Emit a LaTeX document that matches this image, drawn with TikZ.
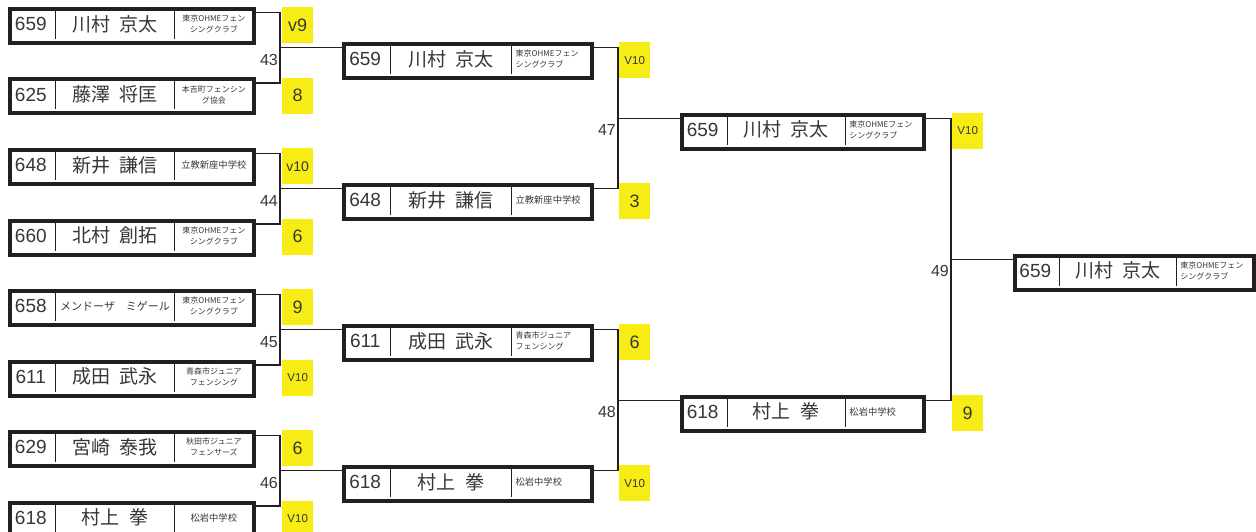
\documentclass[tikz,border=0pt]{standalone}
\usepackage{fontspec}
\setmainfont{Liberation Sans}
\newfontfamily\jp{Noto Sans CJK JP}
\definecolor{scoreyellow}{RGB}{247,236,20}
\definecolor{framegray}{RGB}{35,31,32}
\definecolor{inkgray}{RGB}{55,55,55}

% fencer box: id, x, y (outer top left), width, number, name, club
\newcommand{\fencer}[7]{%
	\node[entry, minimum width={(#4-4)*1pt}] (#1) at ({#2+2},{#3+2}) {};
	\draw[divider] ({#2+0.2*#4},{#3+4}) -- ++(0,30);
	\draw[divider] ({#2+0.68*#4},{#3+4}) -- ++(0,30);
	\node[num] (#1_num) at ({#2+0.1*#4},{#3+19}) {#5};
	\node[fname] (#1_name) at ({#2+0.44*#4},{#3+19}) {#6};
	\node[club] (#1_club) at ({#2+0.68*#4+1},{#3+19}) {#7};
	\coordinate (#1_i) at ([yshift=-5.5pt]#1.north west);
	\coordinate (#1_o) at ([yshift=-5.5pt]#1.north east);
}

\begin{document}
\begin{tikzpicture}[x=1pt, y=-1pt,
	entry/.style={draw=framegray, line width=4pt, fill=white, minimum height=34pt, inner sep=0pt, anchor=north west},
	divider/.style={line width=0.9pt, framegray},
	num/.style={text=inkgray, font=\fontsize{19}{19}\selectfont},
	fname/.style={text=inkgray, font=\jp\fontsize{19}{19}\selectfont},
	club/.style={text=inkgray, anchor=west, text width=70pt, inner xsep=3pt, align=center, font=\jp\fontsize{8}{11}\selectfont},
	bracket/.style={line width=1.2pt, framegray},
	score/.style={fill=scoreyellow, text=inkgray, minimum width=31pt, minimum height=36pt, inner sep=0pt, anchor=north west, font=\fontsize{18}{18}\selectfont},
	midsc/.style={font=\fontsize{14}{14}\selectfont},
	smallsc/.style={font=\fontsize{11.5}{11.5}\selectfont},
	matchno/.style={text=inkgray, anchor=east, inner sep=2pt, font=\fontsize{16}{16}\selectfont}]
		\path[use as bounding box, clip] (0,0) rectangle (1256,532);

		%Round 1
		\fencer{r1_a}{6}{5}{248}{659}{川村\enspace 京太}{東京OHMEフェン\\シングクラブ}
		\fencer{r1_b}{6}{75.5}{248}{625}{藤澤\enspace 将匡}{本吉町フェンシン\\グ協会}
		\fencer{r1_c}{6}{146}{248}{648}{新井\enspace 謙信}{{\fontsize{9.3}{11}\selectfont 立教新座中学校}}
		\fencer{r1_d}{6}{216.5}{248}{660}{北村\enspace 創拓}{東京OHMEフェン\\シングクラブ}
		\fencer{r1_e}{6}{287}{248}{658}{{\fontsize{11}{11}\selectfont メンドーザ\quad ミゲール}}{東京OHMEフェン\\シングクラブ}
		\fencer{r1_f}{6}{357.5}{248}{611}{成田\enspace 武永}{青森市ジュニア\\フェンシング}
		\fencer{r1_g}{6}{428}{248}{629}{宮崎\enspace 泰我}{秋田市ジュニア\\フェンサーズ}
		\fencer{r1_h}{6}{498.5}{248}{618}{村上\enspace 拳}{{\fontsize{9.3}{11}\selectfont 松岩中学校}}

		\begin{scope}[club/.append style={align=left}]
		%Round 2
		\fencer{r2_a}{340}{40.25}{252}{659}{川村\enspace 京太}{東京OHMEフェン\\シングクラブ}
		\fencer{r2_b}{340}{181.25}{252}{648}{新井\enspace 謙信}{{\fontsize{9.3}{11}\selectfont 立教新座中学校}}
		\fencer{r2_c}{340}{322.25}{252}{611}{成田\enspace 武永}{青森市ジュニア\\フェンシング}
		\fencer{r2_d}{340}{463.25}{252}{618}{村上\enspace 拳}{{\fontsize{9.3}{11}\selectfont 松岩中学校}}

		%Round 3
		\fencer{r3_a}{678}{110.75}{246}{659}{川村\enspace 京太}{東京OHMEフェン\\シングクラブ}
		\fencer{r3_b}{678}{392.75}{246}{618}{村上\enspace 拳}{{\fontsize{9.3}{11}\selectfont 松岩中学校}}

		%Final
		\fencer{fin}{1011}{251.75}{243}{659}{川村\enspace 京太}{東京OHMEフェン\\シングクラブ}
		\end{scope}

		%matches
		\coordinate (m_43) at (280,47.75);
		\coordinate (m_44) at (280,188.75);
		\coordinate (m_45) at (280,329.75);
		\coordinate (m_46) at (280,470.75);
		\coordinate (m_47) at (618,118.25);
		\coordinate (m_48) at (618,400.25);
		\coordinate (m_49) at (951,259.25);

		\draw[bracket] (r1_a_o) -| (m_43) |- (r1_b_o);
		\draw[bracket] (r1_c_o) -| (m_44) |- (r1_d_o);
		\draw[bracket] (r1_e_o) -| (m_45) |- (r1_f_o);
		\draw[bracket] (r1_g_o) -| (m_46) |- (r1_h_o);
		\draw[bracket] (r2_a_o) -| (m_47) |- (r2_b_o);
		\draw[bracket] (r2_c_o) -| (m_48) |- (r2_d_o);
		\draw[bracket] (r3_a_o) -| (m_49) |- (r3_b_o);

		\draw[bracket] (m_43) -- (r2_a_i);
		\draw[bracket] (m_44) -- (r2_b_i);
		\draw[bracket] (m_45) -- (r2_c_i);
		\draw[bracket] (m_46) -- (r2_d_i);
		\draw[bracket] (m_47) -- (r3_a_i);
		\draw[bracket] (m_48) -- (r3_b_i);
		\draw[bracket] (m_49) -- (fin_i);

		\node[matchno] (n_43) at ([yshift=-12pt]m_43) {43};
		\node[matchno] (n_44) at ([yshift=-12pt]m_44) {44};
		\node[matchno] (n_45) at ([yshift=-12pt]m_45) {45};
		\node[matchno] (n_46) at ([yshift=-12pt]m_46) {46};
		\node[matchno] (n_47) at ([yshift=-12pt]m_47) {47};
		\node[matchno] (n_48) at ([yshift=-12pt]m_48) {48};
		\node[matchno] (n_49) at ([yshift=-12pt]m_49) {49};

		%scores
		\node[score] (sc1_a) at (282,7) {v9};
		\node[score] (sc1_b) at (282,77.5) {8};
		\node[score, midsc] (sc1_c) at (282,148) {v10};
		\node[score] (sc1_d) at (282,218.5) {6};
		\node[score] (sc1_e) at (282,289) {9};
		\node[score, smallsc] (sc1_f) at (282,359.5) {V10};
		\node[score] (sc1_g) at (282,430) {6};
		\node[score, smallsc] (sc1_h) at (282,500.5) {V10};

		\node[score, smallsc] (sc2_a) at (619,42.25) {V10};
		\node[score] (sc2_b) at (619,183.25) {3};
		\node[score] (sc2_c) at (619,324.25) {6};
		\node[score, smallsc] (sc2_d) at (619,465.25) {V10};

		\node[score, smallsc] (sc3_a) at (952,112.75) {V10};
		\node[score] (sc3_b) at (952,394.75) {9};

	\end{tikzpicture}
\end{document}
